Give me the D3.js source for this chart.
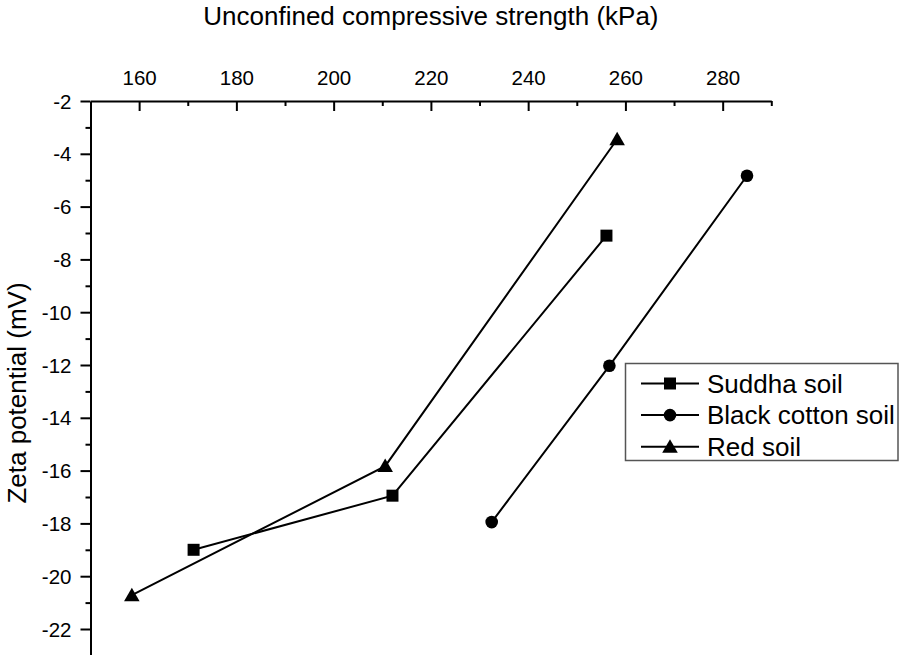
<!DOCTYPE html>
<html>
<head>
<meta charset="utf-8">
<script src="https://cdn.jsdelivr.net/npm/d3@7"></script>
<style>
  html, body { margin: 0; padding: 0; background: #fff; }
  svg { display: block; font-family: "Liberation Sans", Arial, Helvetica, sans-serif; }
</style>
</head>
<body>
<svg id="chart" width="900" height="655"></svg>
<script>
// Unconfined compressive strength (kPa) vs zeta potential (mV) for three soils
const seriesNames = ["Suddha soil", "Black cotton soil", "Red soil"];
const suddhaUCS = [171.2, 212.1, 256.1];
const suddhaZeta = [-19.0, -16.95, -7.1];
const blackCottonUCS = [232.5, 256.7, 285.0];
const blackCottonZeta = [-17.95, -12.03, -4.83];
const redUCS = [158.5, 210.6, 258.3];
const redZeta = [-20.72, -15.83, -3.45];
const symbols = ["square", "circle", "triangle"];

const xMajorTicks = [160, 180, 200, 220, 240, 260, 280];
const xMinorTicks = [170, 190, 210, 230, 250, 270, 290];
const yMajorTicks = [-22, -20, -18, -16, -14, -12, -10, -8, -6, -4, -2];
const yMinorTicks = [-21, -19, -17, -15, -13, -11, -9, -7, -5, -3];

const series = [
  { name: seriesNames[0], symbol: symbols[0], points: suddhaUCS.map((x, i) => ({ x, y: suddhaZeta[i] })) },
  { name: seriesNames[1], symbol: symbols[1], points: blackCottonUCS.map((x, i) => ({ x, y: blackCottonZeta[i] })) },
  { name: seriesNames[2], symbol: symbols[2], points: redUCS.map((x, i) => ({ x, y: redZeta[i] })) }
];

const svg = d3.select("#chart");
const plotLeft = 90.5, plotRight = 771.3, plotTop = 101, plotBottom = 655.4;

const x = d3.scaleLinear().domain([150, 290]).range([plotLeft, plotRight]);
const y = d3.scaleLinear().domain([-23, -2]).range([plotBottom, plotTop]);

// plain hyphen-minus for negative tick labels
const plainFormat = d => String(d);

// Top axis: ticks point down into the plot
svg.append("g").attr("transform", `translate(0,${plotTop})`)
  .call(d3.axisTop(x).tickValues(xMajorTicks).tickSizeInner(-10).tickSizeOuter(0)
    .tickPadding(16).tickFormat(plainFormat));
svg.append("g").attr("transform", `translate(0,${plotTop})`)
  .call(d3.axisTop(x).tickValues(xMinorTicks).tickSizeInner(-5).tickSizeOuter(0).tickFormat(""))
  .select(".domain").remove();

// Left axis: ticks point outward
const yAxis = svg.append("g").attr("transform", `translate(${plotLeft},0)`)
  .call(d3.axisLeft(y).tickValues(yMajorTicks).tickSizeInner(10).tickSizeOuter(0)
    .tickPadding(9).tickFormat(plainFormat));
svg.append("g").attr("transform", `translate(${plotLeft},0)`)
  .call(d3.axisLeft(y).tickValues(yMinorTicks).tickSizeInner(5).tickSizeOuter(0).tickFormat(""))
  .select(".domain").remove();

svg.selectAll(".domain").attr("stroke", "#000").attr("stroke-width", 2);
svg.selectAll(".tick line").attr("stroke", "#000").attr("stroke-width", 2);
svg.selectAll(".tick text").attr("font-size", 20.5).attr("fill", "#000")
  .attr("font-family", "'Liberation Sans', Arial, sans-serif");
yAxis.selectAll(".tick text").attr("dy", "0.35em");

// Axis titles
svg.append("text")
  .attr("x", (plotLeft + plotRight) / 2).attr("y", 25)
  .attr("text-anchor", "middle").attr("font-size", 26).attr("fill", "#000")
  .text("Unconfined compressive strength (kPa)");
svg.append("text")
  .attr("transform", `translate(26,393) rotate(-90)`)
  .attr("text-anchor", "middle").attr("font-size", 26).attr("fill", "#000")
  .text("Zeta potential (mV)");

// Marker shapes
const symbolType = { square: d3.symbolSquare, circle: d3.symbolCircle, triangle: d3.symbolTriangle };
const symbolSize = { square: 144, circle: 125, triangle: 105 };
const symbolGen = s => d3.symbol().type(symbolType[s]).size(symbolSize[s])();

const line = d3.line().x(d => x(d.x)).y(d => y(d.y));

const plot = svg.append("g");
series.forEach(s => {
  plot.append("path").datum(s.points)
    .attr("d", line).attr("fill", "none").attr("stroke", "#000").attr("stroke-width", 2);
  plot.selectAll(null).data(s.points).enter().append("path")
    .attr("transform", d => `translate(${x(d.x)},${y(d.y) + (s.symbol === "triangle" ? 1.5 : 0)})`)
    .attr("d", symbolGen(s.symbol)).attr("fill", "#000");
});

// Legend
const legend = svg.append("g");
legend.append("rect")
  .attr("x", 625.5).attr("y", 363.5).attr("width", 272.5).attr("height", 97)
  .attr("fill", "#fff").attr("stroke", "#555").attr("stroke-width", 1.5);
series.forEach((s, i) => {
  const cy = 383.5 + i * 31.6;
  legend.append("line").attr("x1", 641).attr("x2", 699).attr("y1", cy).attr("y2", cy)
    .attr("stroke", "#000").attr("stroke-width", 2);
  legend.append("path")
    .attr("transform", `translate(670,${cy + (s.symbol === "triangle" ? 1.5 : 0)})`)
    .attr("d", symbolGen(s.symbol)).attr("fill", "#000");
  legend.append("text").attr("x", 707).attr("y", cy).attr("dy", "0.35em")
    .attr("font-size", 26).attr("fill", "#000").text(s.name);
});
</script>
</body>
</html>
